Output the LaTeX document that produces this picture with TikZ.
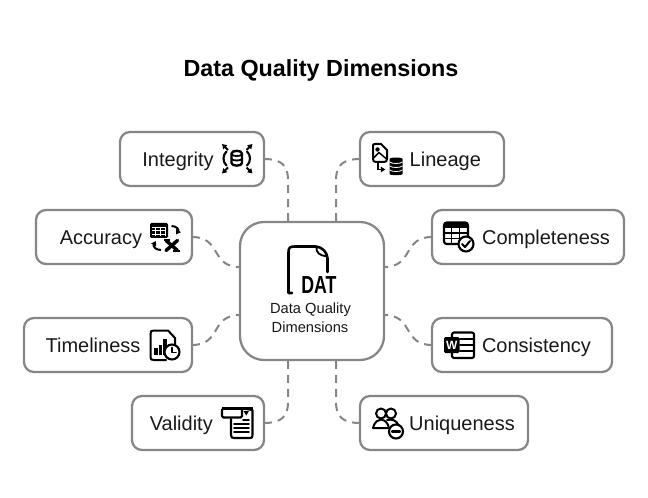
\documentclass[tikz,border=0pt]{standalone}
\usepackage{fontspec}
\setmainfont{Liberation Sans}
\usetikzlibrary{arrows.meta,calc}
\definecolor{edgegray}{HTML}{868686}
\tikzset{
  card/.style={draw=edgegray,fill=white,line width=1.7pt,rounded corners=10pt*0.75,inner sep=0,outer sep=0,minimum height=40.5pt},
  hub/.style={draw=edgegray,fill=white,line width=1.7pt,rounded corners=18pt,inner sep=0,outer sep=0,minimum width=108pt,minimum height=103.5pt},
  lab/.style={anchor=base,font=\fontsize{15}{18}\selectfont,text=black!90,inner sep=0},
  link/.style={draw=edgegray,line width=1.5pt,dash pattern=on 6pt off 4.5pt},
  ic/.style={draw=black,line width=1.4pt,line cap=round,line join=round},
  ict/.style={draw=black,line width=1.9pt,line cap=round,line join=round},
  tip/.style={-{Triangle[length=3.5pt,width=4pt]}}
}
\begin{document}
\begin{tikzpicture}[x=0.75pt,y=-0.75pt]
\useasboundingbox (0,0) rectangle (648,498);
\node[anchor=base,font=\bfseries\fontsize{17.5}{20}\selectfont,inner sep=0] (title) at (321,76.5) {Data Quality Dimensions};

% centre and cards
\node[hub] (hub) at (312,291) {};
\node[card,minimum width=108pt] (integrity) at (192,159) {};
\node[card,minimum width=108pt] (lineage) at (432,159) {};
\node[card,minimum width=117pt] (accuracy) at (114,237) {};
\node[card,minimum width=144pt] (completeness) at (528,237) {};
\node[card,minimum width=126pt] (timeliness) at (108,345) {};
\node[card,minimum width=135pt] (consistency) at (522,345) {};
\node[card,minimum width=99pt] (validity) at (198,423) {};
\node[card,minimum width=126pt] (uniqueness) at (444,423) {};

% ports on the hub
\coordinate (pTL) at (288,222); \coordinate (pTR) at (336,222);
\coordinate (pBL) at (288,360); \coordinate (pBR) at (336,360);
\coordinate (pLT) at (240,267); \coordinate (pLB) at (240,315);
\coordinate (pRT) at (384,267); \coordinate (pRB) at (384,315);

% connectors
\draw[link] (integrity.east) .. controls (282,159) and (288,166) .. (288,180) -- (pTL);
\draw[link] (lineage.west) .. controls (342,159) and (336,166) .. (336,180) -- (pTR);
\draw[link] (accuracy.east) .. controls (222,237) and (210,267) .. (pLT);
\draw[link] (completeness.west) .. controls (402,237) and (414,267) .. (pRT);
\draw[link] (timeliness.east) .. controls (222,345) and (210,315) .. (pLB);
\draw[link] (consistency.west) .. controls (402,345) and (414,315) .. (pRB);
\draw[link] (validity.east) .. controls (282,423) and (288,416) .. (288,402) -- (pBL);
\draw[link] (uniqueness.west) .. controls (342,423) and (336,416) .. (336,402) -- (pBR);

% labels
\node[lab] (tInt) at (178,166.2) {Integrity};
\node[lab] (tLin) at (445.3,166.2) {Lineage};
\node[lab] (tAcc) at (101,244.2) {Accuracy};
\node[lab] (tCom) at (546,244.2) {Completeness};
\node[lab] (tTim) at (93,352.2) {Timeliness};
\node[lab] (tCon) at (536.5,352.2) {Consistency};
\node[lab] (tVal) at (181.3,430.2) {Validity};
\node[lab] (tUni) at (462,430.2) {Uniqueness};
\node[anchor=base,font=\fontsize{11}{13.5}\selectfont,inner sep=0,text=black!90] (tHub) at (310.5,314) {Data Quality};
\node[anchor=base,font=\fontsize{11}{13.5}\selectfont,inner sep=0,text=black!90] (tHub2) at (310,332) {Dimensions};

% hub icon
\draw[ict] (292,293) -- (288.5,293) -- (288.5,252) .. controls (288.5,248) and (290,246.5) .. (294,246.5) -- (316,246.5) .. controls (322,247) and (327,252) .. (327.5,258) -- (327.5,272);
\draw[ic] (316.5,247) .. controls (316,252) and (319,256) .. (327,256);
\node[inner sep=0,anchor=base,font=\bfseries\fontsize{18.5}{20}\selectfont,xscale=.72,transform shape] (dat) at (319,293.5) {DAT};

% integrity icon
\foreach \a/\b/\c/\d in {228/150/222/144,246.5/150/252.5/144,228/167.5/222/173.5,246.5/167.5/252.5/173.5}
  \draw[draw=black,line width=1.4pt,tip] (\a,\b) -- (\c,\d);
\draw[ic,line width=1.6pt] (226.5,151.5) .. controls (222.5,155) and (222.5,162) .. (226.5,165.5);
\draw[ic,line width=1.6pt] (247,151.5) .. controls (251,155) and (251,162) .. (247,165.5);
\draw[ic,line width=1.8pt] (231.5,153.5) .. controls (231.5,150) and (242,150) .. (242,153.5) -- (242,163) .. controls (242,166.5) and (231.5,166.5) .. (231.5,163) -- cycle;
\draw[ic] (231.5,154.5) .. controls (233,156.5) and (240.5,156.5) .. (242,154.5);
\draw[ic] (231.5,159) .. controls (233,161) and (240.5,161) .. (242,159);

% lineage icon
\draw[ic,line width=1.5pt] (373,145.5) -- (373,159) .. controls (373,161) and (374,162) .. (376,162) -- (384,162) .. controls (386,162) and (387,161) .. (387,159) -- (387,150) -- (381,144) -- (375,144) .. controls (373.5,144) and (373,144.5) .. (373,145.5) -- cycle;
\fill (377.5,149.5) circle (2.2);
\draw[ic,line width=1.1pt] (373.5,158) -- (379,152.5) -- (386.5,159);
\draw[draw=black,line width=1.4pt,tip] (378,163.5) -- (378,169.5) -- (385.5,169.5);
\fill[rounded corners=1.5pt] (389.5,161) .. controls (389.5,157) and (402.5,157) .. (402.5,161) -- (402.5,172) .. controls (402.5,175.5) and (389.5,175.5) .. (389.5,172) -- cycle;
\draw[white,line width=.6pt] (389.5,162) .. controls (392,164) and (400,164) .. (402.5,162);
\draw[white,line width=.6pt] (389.5,166) .. controls (392,168) and (400,168) .. (402.5,166);
\draw[white,line width=.6pt] (389.5,170) .. controls (392,172) and (400,172) .. (402.5,170);

% accuracy icon
\fill[rounded corners=1pt] (150,223) rectangle (168,238);
\foreach \xa in {155,160,165} \draw[white,line width=.45pt] (\xa,227) -- (\xa,236);
\foreach \ya in {227,230.5,234} \draw[white,line width=.45pt] (152,\ya) -- (166,\ya);
\draw[draw=black,line width=1.5pt,tip] (171.5,226) .. controls (177,226) and (179,230) .. (176,234.5);
\draw[draw=black,line width=1.5pt,tip] (161,250) .. controls (155,250) and (153,246) .. (156,241);
\draw[black,line width=2.6pt,line cap=round] (166,240.5) -- (177.5,250.5);
\draw[black,line width=2.6pt,line cap=round] (177.5,240.5) -- (166,250.5);
\draw[black,line width=1.4pt] (163.5,240) -- (170,240); \draw[black,line width=1.4pt] (173,251) -- (179.5,251);

% completeness icon
\draw[ic,line width=1.6pt,rounded corners=2pt] (444,222.5) rectangle (468,244);
\fill[rounded corners=1pt] (444,222.5) rectangle (468,228);
\draw[ic] (444,233) -- (468,233); \draw[ic] (444,238.5) -- (462,238.5);
\draw[ic] (451.5,228) -- (451.5,244); \draw[ic] (459.5,228) -- (459.5,238);
\draw[ic,fill=white,line width=1.6pt] (466,244) circle (7.5);
\draw[ic,line width=1.5pt] (462,244) -- (465,247) -- (470,241);

% timeliness icon
\draw[ic,line width=1.5pt] (150.5,334) .. controls (150.5,331) and (151,330.5) .. (154,330.5) -- (168,330.5) -- (175,338) -- (175,345);
\draw[ic,line width=1.5pt] (150.5,334) -- (150.5,357) .. controls (150.5,359.5) and (151,360) .. (154,360) -- (166,360);
\fill (154,348) rectangle (157.5,355); \fill (158.5,345) rectangle (162,355); \fill (163,339) rectangle (166.5,355);
\draw[ic,fill=white,line width=1.6pt] (172,352) circle (7.5);
\draw[ic] (172,347.5) -- (172,352.5) -- (176,352.5);

% consistency icon
\draw[ic,line width=1.6pt,rounded corners=1.5pt] (452,332.5) rectangle (474,358);
\foreach \ya in {339,345,351} \draw[ic,line width=1.6pt] (460,\ya) -- (474,\ya);
\fill[rounded corners=1pt] (444,337) rectangle (459.5,353);
\node[inner sep=0,text=white,font=\bfseries\fontsize{9}{10}\selectfont] (wmark) at (451.7,345.2) {W};

% validity icon
\draw[ic,line width=1.6pt] (231,419) -- (231,435) .. controls (231,437.5) and (232,438) .. (234,438) -- (250,438) .. controls (252,438) and (252.5,437.5) .. (252.5,435) -- (252.5,410) -- (243,408.5);
\draw[ic,line width=1.6pt,fill=white,rounded corners=1pt] (222,408.5) rectangle (242,417.5);
\draw[black,line width=1.6pt] (222,408.5) -- (252.5,408.5);
\fill (243.5,411) -- (249,411) -- (246.2,415.5) -- cycle;
\foreach \ya in {424,428,432} \draw[ic,line width=1.2pt] (234,\ya) -- (249,\ya);
\draw[ic,line width=1.2pt] (243,420) -- (249,420);

% uniqueness icon
\draw[ic,line width=1.5pt] (381,413.5) circle (5);
\draw[ic,line width=1.5pt] (391,413.5) circle (5);
\draw[ic,line width=1.5pt] (373,428) .. controls (375,421) and (378,420) .. (381,419.5) .. controls (385,420) and (388,423) .. (389,428) -- cycle;
\draw[ic,line width=1.5pt] (387,420) .. controls (392,419) and (396,420) .. (398.5,425);
\draw[ic,fill=white,line width=1.6pt] (396,431.5) circle (7);
\draw[ic,line width=1.7pt] (392,431.5) -- (400,431.5);
\end{tikzpicture}
\end{document}
